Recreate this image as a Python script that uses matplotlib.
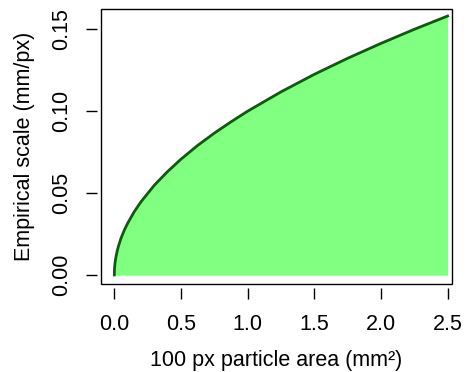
# Empirical scale vs. area covered by a 100 px particle
import matplotlib
matplotlib.use("Agg")
import matplotlib.pyplot as plt
import matplotlib.patches as mpatches

plt.rcParams['font.family'] = ['Liberation Sans', 'DejaVu Sans']

# values
area = [0.0, 0.001, 0.002, 0.005, 0.01, 0.02, 0.03, 0.05, 0.075, 0.1, 0.15,
        0.2, 0.3, 0.4, 0.5, 0.625, 0.75, 0.875, 1.0, 1.25, 1.5, 1.75, 2.0,
        2.25, 2.5]
scale = [0.0, 0.0032, 0.0045, 0.0071, 0.0100, 0.0141, 0.0173, 0.0224, 0.0274,
         0.0316, 0.0387, 0.0447, 0.0548, 0.0632, 0.0707, 0.0791, 0.0866,
         0.0935, 0.1000, 0.1118, 0.1225, 0.1323, 0.1414, 0.1500, 0.1581]
x_ticks = [0.0, 0.5, 1.0, 1.5, 2.0, 2.5]
x_labels = ["0.0", "0.5", "1.0", "1.5", "2.0", "2.5"]
y_ticks = [0.0, 0.05, 0.10, 0.15]
y_labels = ["0.00", "0.05", "0.10", "0.15"]

fig = plt.figure(figsize=(4.68, 3.72), dpi=100)
ax = fig.add_axes([0.2158, 0.2366, 0.75, 0.7392])

ax.fill_between(area, scale, 0, color="#80FF80", linewidth=0)
ax.plot(area, scale, color="#006400", linewidth=2)

ax.set_xlim(-0.1, 2.533)
ax.set_ylim(-0.0055, 0.1624)

# R-style axes: ticks detached from the box
for side in ["left", "bottom"]:
    ax.spines[side].set_position(("outward", 3))
for side in ax.spines:
    ax.spines[side].set_visible(False)
ax.add_patch(mpatches.Rectangle((0, 0), 1, 1, transform=ax.transAxes,
                                fill=False, edgecolor="black", linewidth=1,
                                clip_on=False, zorder=5))

ax.set_xticks(x_ticks)
ax.set_xticklabels(x_labels)
ax.set_yticks(y_ticks)
ax.set_yticklabels(y_labels, rotation=90, va="center")
ax.tick_params(axis="both", direction="out", length=8, width=1, labelsize=15.5, pad=10)
ax.tick_params(axis="x", pad=10.5)

ax.set_xlabel("100 px particle area (mm²)", fontsize=15.5, labelpad=11)
ax.set_ylabel("Empirical scale (mm/px)", fontsize=15.5, labelpad=11.5)

fig.savefig("out.png", dpi=100)
